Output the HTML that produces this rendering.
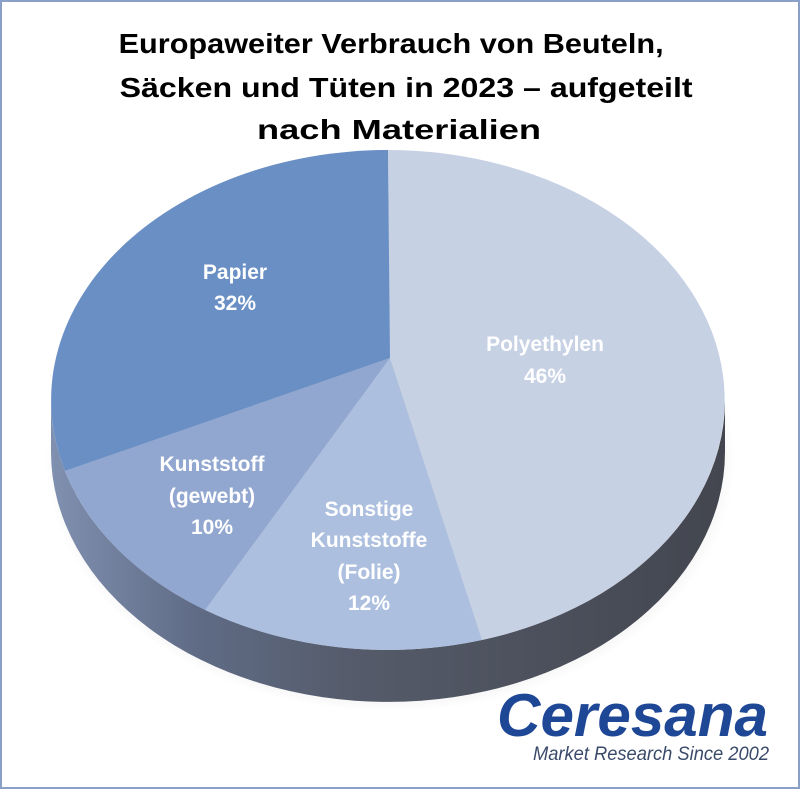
<!DOCTYPE html>
<html><head><meta charset="utf-8"><style>
html,body{margin:0;padding:0;background:#fff}
svg{display:block}
</style></head><body>
<svg width="800" height="789" viewBox="0 0 800 789" xmlns="http://www.w3.org/2000/svg" font-family="Liberation Sans, sans-serif">
<defs>
<linearGradient id="side" x1="0" x2="1" y1="0" y2="0">
<stop offset="0" stop-color="#8090b0"/>
<stop offset="0.22" stop-color="#5f6b85"/>
<stop offset="0.45" stop-color="#555b6a"/>
<stop offset="1" stop-color="#43464f"/>
</linearGradient>
<radialGradient id="shadow" cx="0.5" cy="0.5" r="0.5">
<stop offset="0.8" stop-color="#000" stop-opacity="0.15"/>
<stop offset="1" stop-color="#000" stop-opacity="0"/>
</radialGradient>
</defs>
<rect x="1" y="1" width="798" height="787" fill="#fff" stroke="#8aa0c8" stroke-width="2"/>
<text text-anchor="middle" font-weight="bold" font-size="28" fill="#000">
<tspan x="395" y="53" textLength="545" lengthAdjust="spacingAndGlyphs">Europaweiter Verbrauch von Beuteln,</tspan>
<tspan x="410" y="97" textLength="573" lengthAdjust="spacingAndGlyphs">Säcken und Tüten in 2023 – aufgeteilt</tspan>
<tspan x="399" y="139" textLength="284" lengthAdjust="spacingAndGlyphs">nach Materialien</tspan>
</text>
<ellipse cx="390" cy="460" rx="345" ry="252" fill="url(#shadow)"/>
<path d="M51,400 A337,250 0 0 0 725,400 L725,452 A337,250 0 0 1 51,452 Z" fill="url(#side)"/>
<path d="M390,358 L388,150 A337,250 0 0 1 482,640 Z" fill="#c7d1e4"/>
<path d="M390,358 L482,640 A337,250 0 0 1 205,610 Z" fill="#adbfdf"/>
<path d="M390,358 L205,610 A337,250 0 0 1 65,471 Z" fill="#91a7d0"/>
<path d="M390,358 L65,471 A337,250 0 0 1 388,150 Z" fill="#6a8fc4"/>
<g fill="#fff" font-weight="bold" font-size="21" text-anchor="middle">
<text x="235" y="279">Papier</text><text x="235" y="310">32%</text>
<text x="545" y="351">Polyethylen</text><text x="545" y="383">46%</text>
<text x="212" y="471">Kunststoff</text><text x="212" y="503">(gewebt)</text><text x="212" y="534">10%</text>
<text x="369" y="516">Sonstige</text><text x="369" y="547">Kunststoffe</text><text x="369" y="579">(Folie)</text><text x="369" y="610">12%</text>
</g>
<text x="497" y="736" font-size="60" font-style="italic" fill="#1e4796" font-weight="bold" textLength="271" lengthAdjust="spacingAndGlyphs">Ceresana</text>
<text x="533" y="760" font-size="19" font-style="italic" fill="#3a4a6a" textLength="236" lengthAdjust="spacingAndGlyphs">Market Research Since 2002</text>
</svg>
</body></html>
